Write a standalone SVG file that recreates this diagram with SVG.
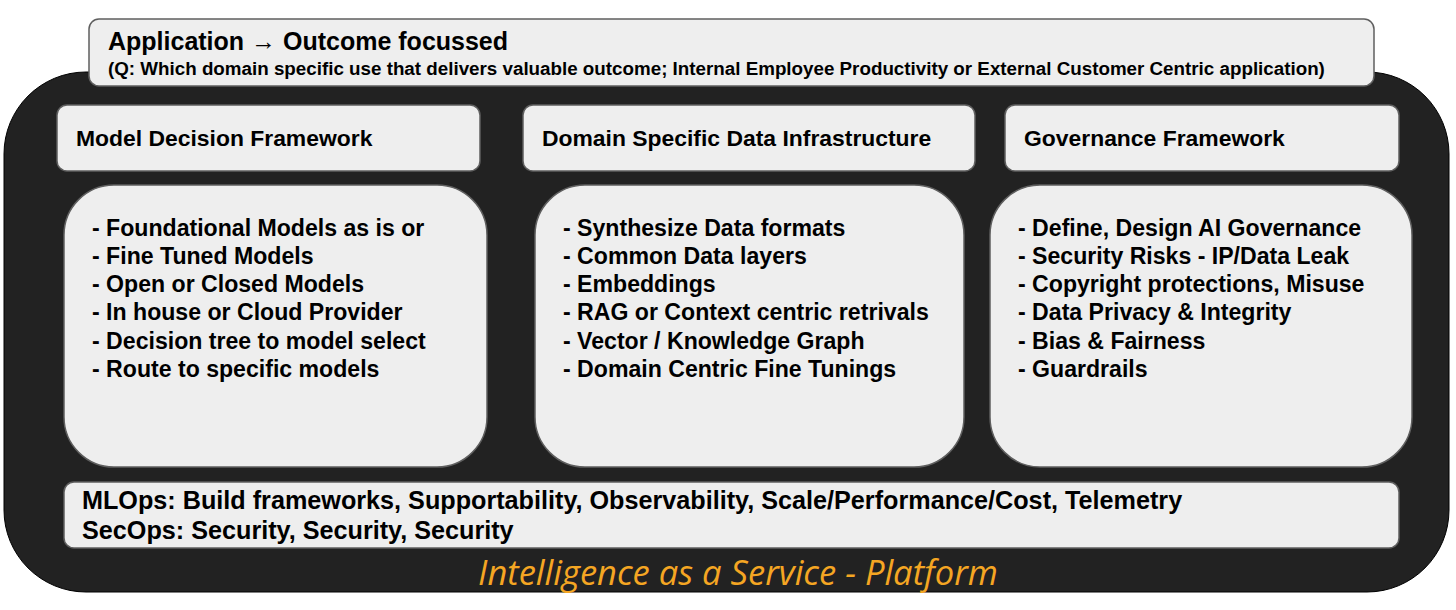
<svg xmlns="http://www.w3.org/2000/svg" width="1456" height="610" viewBox="0 0 1456 610">
<style>
.box{fill:#eeeeee;stroke:#5f5f5f;stroke-width:1.5}
.t{font-family:"Liberation Sans",Arial,sans-serif;font-weight:bold;fill:#000}
.title{font-size:25px}
.sub{font-size:18.8px}
.hdr{font-size:22.9px}
.li{font-size:23.1px}
.bot{font-size:25.2px}
.foot{font-family:"Open Sans","Liberation Sans",sans-serif;font-style:italic;font-size:34.5px;fill:#f5a623}
</style>
<rect id="platform" x="4" y="72" width="1445" height="520" rx="82" ry="82" fill="#222222" stroke="#000" stroke-width="1"/>
<g id="application">
<rect class="box" x="89" y="19" width="1285" height="67" rx="10"/>
<text class="t title" x="108" y="50">Application → Outcome focussed</text>
<text class="t sub" x="108" y="75">(Q: Which domain specific use that delivers valuable outcome; Internal Employee Productivity or External Customer Centric application)</text>
</g>
<g id="model-header">
<rect class="box" x="57" y="105" width="423" height="66" rx="10"/>
<text class="t hdr" x="76" y="146">Model Decision Framework</text>
</g>
<g id="data-header">
<rect class="box" x="523" y="105" width="452" height="66" rx="10"/>
<text class="t hdr" x="542" y="146">Domain Specific Data Infrastructure</text>
</g>
<g id="gov-header">
<rect class="box" x="1005" y="105" width="394" height="66" rx="10"/>
<text class="t hdr" x="1024" y="146">Governance Framework</text>
</g>
<g id="model-list">
<rect class="box" x="64" y="185" width="423" height="282" rx="50"/>
<text class="t li" x="92" y="236">- Foundational Models as is or</text>
<text class="t li" x="92" y="264">- Fine Tuned Models</text>
<text class="t li" x="92" y="292">- Open or Closed Models</text>
<text class="t li" x="92" y="320">- In house or Cloud Provider</text>
<text class="t li" x="92" y="349">- Decision tree to model select</text>
<text class="t li" x="92" y="377">- Route to specific models</text>
</g>
<g id="data-list">
<rect class="box" x="535" y="185" width="429" height="282" rx="50"/>
<text class="t li" x="563" y="236">- Synthesize Data formats</text>
<text class="t li" x="563" y="264">- Common Data layers</text>
<text class="t li" x="563" y="292">- Embeddings</text>
<text class="t li" x="563" y="320">- RAG or Context centric retrivals</text>
<text class="t li" x="563" y="349">- Vector / Knowledge Graph</text>
<text class="t li" x="563" y="377">- Domain Centric Fine Tunings</text>
</g>
<g id="gov-list">
<rect class="box" x="990" y="185" width="422" height="282" rx="50"/>
<text class="t li" x="1018" y="236">- Define, Design AI Governance</text>
<text class="t li" x="1018" y="264">- Security Risks - IP/Data Leak</text>
<text class="t li" x="1018" y="292">- Copyright protections, Misuse</text>
<text class="t li" x="1018" y="320">- Data Privacy &amp; Integrity</text>
<text class="t li" x="1018" y="349">- Bias &amp; Fairness</text>
<text class="t li" x="1018" y="377">- Guardrails</text>
</g>
<g id="ops">
<rect class="box" x="64" y="482" width="1335" height="66" rx="10"/>
<text class="t bot" x="82" y="509">MLOps: Build frameworks, Supportability, Observability, Scale/Performance/Cost, Telemetry</text>
<text class="t bot" x="82" y="539">SecOps: Security, Security, Security</text>
</g>
<g id="connectors"></g>
<text class="foot" x="738" y="585" text-anchor="middle">Intelligence as a Service - Platform</text>
</svg>
